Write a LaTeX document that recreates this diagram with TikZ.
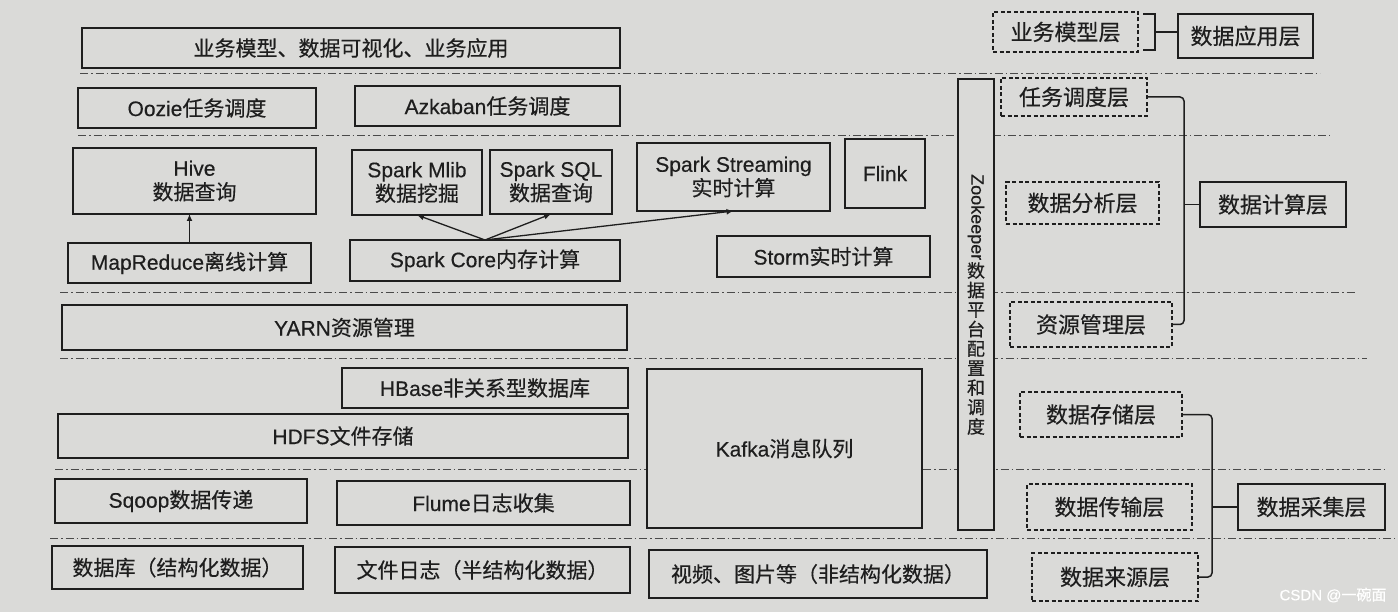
\documentclass[tikz,border=0pt]{standalone}
\usepackage{fontspec}
\setmainfont{Liberation Sans}[FakeBold=0.4]
\newfontfamily\cjk{Noto Sans CJK SC}[FakeBold=0.4]
\newcommand{\zh}[1]{{\cjk #1}}
\usetikzlibrary{arrows.meta}
\definecolor{paper}{HTML}{DADAD8}
\definecolor{ink}{HTML}{1E1E1E}
\definecolor{sepc}{HTML}{4A4A4A}
\tikzset{
  box/.style={draw=ink, line width=1.5pt, fill=paper, inner sep=0pt, outer sep=0pt,
    text=ink, font=\fontsize{21}{24}\selectfont, align=center},
  lay/.style={box, dash pattern=on 4pt off 2.5pt, line width=1.4pt, font=\fontsize{22}{24}\selectfont},
  app/.style={box, font=\fontsize{22}{24}\selectfont},
  zkbox/.style={box, font=\fontsize{18}{19.5}\selectfont},
  sepline/.style={draw=sepc, line width=0.9pt, dash pattern=on 8pt off 3pt on 1.5pt off 3pt},
  conn/.style={draw=ink, line width=1.5pt},
  arr/.style={draw=ink, line width=1.3pt, -{Latex[length=7pt,width=6pt]}},
}
\newcommand{\mybox}[7][box]{\node[#1, minimum width={(#5-#3)*1pt}, minimum height={(#6-#4)*1pt}] (#2) at ({(#3+#5)/2},{(#4+#6)/2}) {#7};}
\begin{document}
\begin{tikzpicture}[x=1pt,y=-1pt]
\fill[paper] (0,0) rectangle (1398,612);
\useasboundingbox (0,0) rectangle (1398,612);

% layer separators
\draw[sepline] (80,73) -- (1320,73);
\draw[sepline] (78,135) -- (1330,135);
\draw[sepline] (60,292) -- (1356,292);
\draw[sepline] (60,358) -- (1367,358);
\draw[sepline] (55,469) -- (1387,469);
\draw[sepline] (50,538) -- (1395,538);

% left stack
\mybox{top}{82}{28}{620}{68}{\zh{业务模型、数据可视化、业务应用}}
\mybox{oozie}{78}{88}{316}{128}{Oozie\zh{任务调度}}
\mybox{azk}{355}{86}{620}{126}{Azkaban\zh{任务调度}}
\mybox{hive}{73}{148}{316}{214}{Hive\\\zh{数据查询}}
\mybox{mlib}{352}{150}{482}{215}{Spark Mlib\\\zh{数据挖掘}}
\mybox{sql}{490}{150}{612}{214}{Spark SQL\\\zh{数据查询}}
\mybox{stream}{637}{143}{830}{211}{Spark Streaming\\\zh{实时计算}}
\mybox{flink}{845}{139}{925}{208}{Flink}
\mybox{mr}{68}{243}{311}{283}{MapReduce\zh{离线计算}}
\mybox{core}{350}{240}{620}{281}{Spark Core\zh{内存计算}}
\mybox{storm}{717}{236}{930}{277}{Storm\zh{实时计算}}
\mybox{yarn}{62}{305}{627}{350}{YARN\zh{资源管理}}
\mybox{hbase}{342}{368}{628}{408}{HBase\zh{非关系型数据库}}
\mybox{hdfs}{58}{414}{628}{458}{HDFS\zh{文件存储}}
\mybox{kafka}{647}{369}{922}{528}{Kafka\zh{消息队列}}
\mybox{sqoop}{55}{479}{307}{523}{Sqoop\zh{数据传递}}
\mybox{flume}{337}{481}{630}{525}{Flume\zh{日志收集}}
\mybox{db}{52}{546}{303}{589}{\zh{数据库（结构化数据）}}
\mybox{file}{335}{547}{630}{593}{\zh{文件日志（半结构化数据）}}
\mybox{media}{649}{550}{987}{598}{\zh{视频、图片等（非结构化数据）}}

% arrows
\draw[arr] (mr.north) -- (mr.north |- hive.south);
\draw[arr] (core.north) -- (mlib.south);
\draw[arr] (core.north) -- (sql.south);
\draw[arr] (core.north) -- (stream.south);

% zookeeper column
\mybox[zkbox]{zk}{958}{79}{994}{530}{\lineskiplimit=-30pt\relax\rotatebox{-90}{Zookeeper}\\[1pt]\zh{数}\\\zh{据}\\\zh{平}\\\zh{台}\\\zh{配}\\\zh{置}\\\zh{和}\\\zh{调}\\\zh{度}}

% layer labels
\mybox[lay]{L1}{993}{12}{1138}{52}{\zh{业务模型层}}
\mybox[lay]{L2}{1001}{78}{1147}{116}{\zh{任务调度层}}
\mybox[lay]{L3}{1006}{182}{1159}{224}{\zh{数据分析层}}
\mybox[lay]{L4}{1010}{302}{1172}{347}{\zh{资源管理层}}
\mybox[lay]{L5}{1020}{392}{1182}{437}{\zh{数据存储层}}
\mybox[lay]{L6}{1027}{484}{1192}{530}{\zh{数据传输层}}
\mybox[lay]{L7}{1032}{553}{1198}{601}{\zh{数据来源层}}
\mybox[app]{A1}{1178}{14}{1313}{58}{\zh{数据应用层}}
\mybox[app]{A2}{1200}{182}{1346}{227}{\zh{数据计算层}}
\mybox[app]{A3}{1238}{484}{1385}{530}{\zh{数据采集层}}

% braces
\draw[conn] (L1.north east) ++(5,2) -- ++(12,0) -- ++(0,36) -- ++(-12,0);
\draw[conn] ([xshift=17pt]L1.east) -- (L1.east -| A1.west);
\draw[conn, rounded corners=4pt] (L2.east) -- ++(37,0) |- (L4.east);
\draw[conn] (A2.west) -- ++(-16,0);
\draw[conn, rounded corners=4pt] (L5.east) -- ++(30,0) |- (L7.east);
\draw[conn] (A3.west) -- ++(-26,0);

% watermark
\node[text=white, font=\fontsize{15}{15}\selectfont, inner sep=0pt] (wm) at (1333,595) {CSDN @\zh{一碗面}};
\end{tikzpicture}
\end{document}
